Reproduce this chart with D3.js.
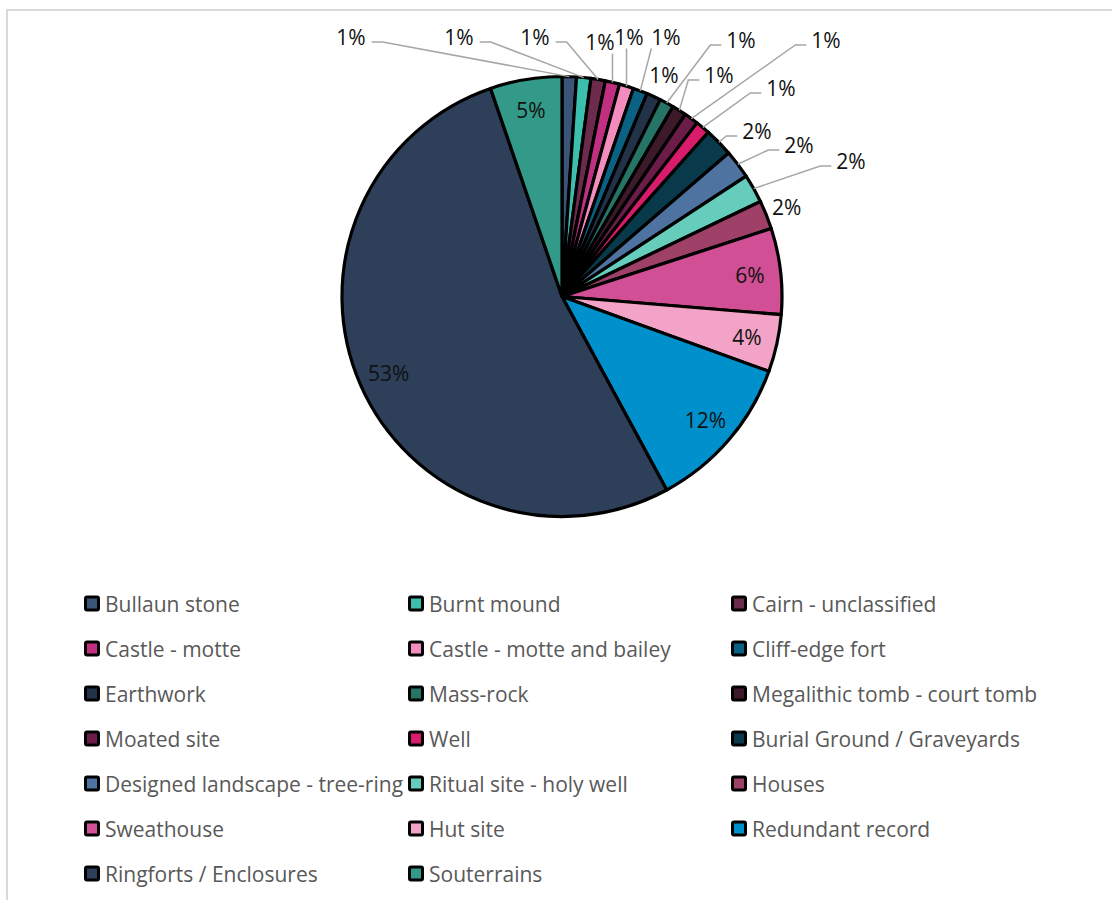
<!DOCTYPE html>
<html>
<head>
<meta charset="utf-8">
<script src="https://cdn.jsdelivr.net/npm/d3@7"></script>
<style>
    body { margin: 0; background: #fff; }
    #chart-area { width: 1112px; height: 900px; }
    text { font-family: "Open Sans", sans-serif; }
    .legend-label { font-size: 21px; fill: #595959; }
    .data-label { font-size: 21px; fill: #111; }
    .leader { fill: none; stroke: #a6a6a6; stroke-width: 1.5; }
</style>
</head>
<body>
<div id="chart-area"></div>
<script>

// site types, in slice order (clockwise from 12 o'clock)
const categories = [
    "Bullaun stone", "Burnt mound", "Cairn - unclassified",
    "Castle - motte", "Castle - motte and bailey", "Cliff-edge fort",
    "Earthwork", "Mass-rock", "Megalithic tomb - court tomb",
    "Moated site", "Well", "Burial Ground / Graveyards",
    "Designed landscape - tree-ring", "Ritual site - holy well", "Houses",
    "Sweathouse", "Hut site", "Redundant record",
    "Ringforts / Enclosures", "Souterrains"
];

// number of sites per type
const counts = [1, 1, 1, 1, 1, 1, 1, 1, 1, 1, 1, 2, 2, 2, 2, 6, 4, 11, 50, 5];

const colors = [
    "#3b5578", "#3cbfad", "#6c2b4c",
    "#c02f80", "#f28dbe", "#0b6184",
    "#223249", "#257466", "#3d1a2a",
    "#6b1c48", "#d81b6a", "#083a4b",
    "#4f73a0", "#66ccbb", "#9e4068",
    "#d14f94", "#f4a3c8", "#0090cc",
    "#2d3f59", "#339988"
];

// where each data label sits: inside the slice, just outside it, or out with a leader line
// (dx, dy = label centre relative to the pie centre)
const labelPlacement = [
    {type: "leader", dx: -211, dy: -260, side: "right"},
    {type: "leader", dx: -103, dy: -260, side: "right"},
    {type: "leader", dx: -27, dy: -260, side: "right"},
    {type: "leader", dx: 38, dy: -255, side: "down"},
    {type: "leader", dx: 67, dy: -260, side: "down"},
    {type: "leader", dx: 104, dy: -260, side: "down"},
    {type: "leader", dx: 102, dy: -222, side: "none"},
    {type: "leader", dx: 179, dy: -257, side: "left"},
    {type: "leader", dx: 157, dy: -222, side: "left"},
    {type: "leader", dx: 264, dy: -257, side: "left"},
    {type: "leader", dx: 219, dy: -209, side: "left"},
    {type: "leader", dx: 195, dy: -166, side: "left"},
    {type: "leader", dx: 237, dy: -152, side: "left"},
    {type: "leader", dx: 289, dy: -136, side: "left"},
    {type: "edge"},
    {type: "inside"},
    {type: "inside"},
    {type: "inside"},
    {type: "inside"},
    {type: "inside"}
];


class PieVis {

    constructor(parentElement) {
        this.parentElement = parentElement;
        this.data = categories.map((c, i) => ({name: c, count: counts[i], color: colors[i], place: labelPlacement[i]}));
        this.initVis();
    }

    initVis() {
        let vis = this;

        vis.width = 1112;
        vis.height = 900;
        vis.cx = 562;
        vis.cy = 296.5;
        vis.radius = 220;

        vis.svg = d3.select("#" + vis.parentElement).append("svg")
            .attr("width", vis.width)
            .attr("height", vis.height);

        // chart area border (runs off the right and bottom of the picture)
        vis.svg.append("rect")
            .attr("x", 7)
            .attr("y", 10)
            .attr("width", vis.width + 20)
            .attr("height", vis.height + 20)
            .attr("fill", "#fff")
            .attr("stroke", "#d9d9d9")
            .attr("stroke-width", 2);

        vis.pieGroup = vis.svg.append("g")
            .attr("transform", `translate(${vis.cx}, ${vis.cy})`);

        vis.legend = vis.svg.append("g")
            .attr("class", "legend");

        vis.wrangleData();
    }

    wrangleData() {
        let vis = this;

        vis.total = d3.sum(vis.data, d => d.count);
        vis.pie = d3.pie()
            .sort(null)
            .value(d => d.count);
        vis.arcs = vis.pie(vis.data);

        vis.updateVis();
    }

    updateVis() {
        let vis = this;

        vis.arc = d3.arc()
            .innerRadius(0)
            .outerRadius(vis.radius);

        vis.pieGroup.selectAll(".slice")
            .data(vis.arcs)
            .enter()
            .append("path")
            .attr("class", "slice")
            .attr("d", vis.arc)
            .attr("fill", d => d.data.color)
            .attr("stroke", "black")
            .attr("stroke-width", 3.2)
            .attr("stroke-linejoin", "round");

        let fmt = d => Math.round(d.data.count / vis.total * 100) + "%";
        let midAngle = d => (d.startAngle + d.endAngle) / 2;
        let polar = (a, r) => [Math.sin(a) * r, -Math.cos(a) * r];

        // labels inside slices and just beyond the rim
        vis.arcs.forEach(d => {
            let p = d.data.place;
            let pos;
            if (p.type === "inside") pos = polar(midAngle(d), vis.radius * 0.86);
            else if (p.type === "edge") pos = polar(midAngle(d), vis.radius * 1.1);
            else pos = [p.dx, p.dy];

            let label = vis.pieGroup.append("text")
                .attr("class", "data-label")
                .attr("x", pos[0])
                .attr("y", pos[1])
                .attr("text-anchor", "middle")
                .attr("dominant-baseline", "central")
                .text(fmt(d));

            if (p.type !== "leader" || p.side === "none") return;

            // leader line from the label to the rim of its slice
            let w = label.node().getComputedTextLength();
            let end = polar(midAngle(d), vis.radius);
            let pts;
            if (p.side === "right") {
                let sx = pos[0] + w / 2 + 6, sy = pos[1] + 5.5;
                pts = [[sx, sy], [sx + 11, sy], end];
            } else if (p.side === "left") {
                let sx = pos[0] - w / 2 - 5, sy = pos[1] + 5.5;
                pts = [[sx, sy], [sx - 11, sy], end];
            } else {
                let sx = Math.max(pos[0] - w / 2, Math.min(pos[0] + w / 2, end[0]));
                pts = [[sx, pos[1] + 12], end];
            }
            vis.pieGroup.append("path")
                .attr("class", "leader")
                .attr("d", d3.line()(pts));
        });

        // legend, three columns
        let colX = [84, 408, 731];
        let rowY = d3.range(7).map(i => 603.5 + i * 45);

        let items = vis.legend.selectAll(".item")
            .data(vis.data)
            .enter()
            .append("g")
            .attr("class", "item")
            .attr("transform", (d, i) => `translate(${colX[i % 3]}, ${rowY[Math.floor(i / 3)]})`);

        items.append("rect")
            .attr("x", 1.5)
            .attr("y", -6.5)
            .attr("width", 13)
            .attr("height", 13)
            .attr("rx", 1.5)
            .attr("fill", d => d.color)
            .attr("stroke", "black")
            .attr("stroke-width", 3);

        items.append("text")
            .attr("class", "legend-label")
            .attr("x", 21)
            .attr("y", 0)
            .attr("dominant-baseline", "central")
            .text(d => d.name);
    }
}

new PieVis("chart-area");

</script>
</body>
</html>
